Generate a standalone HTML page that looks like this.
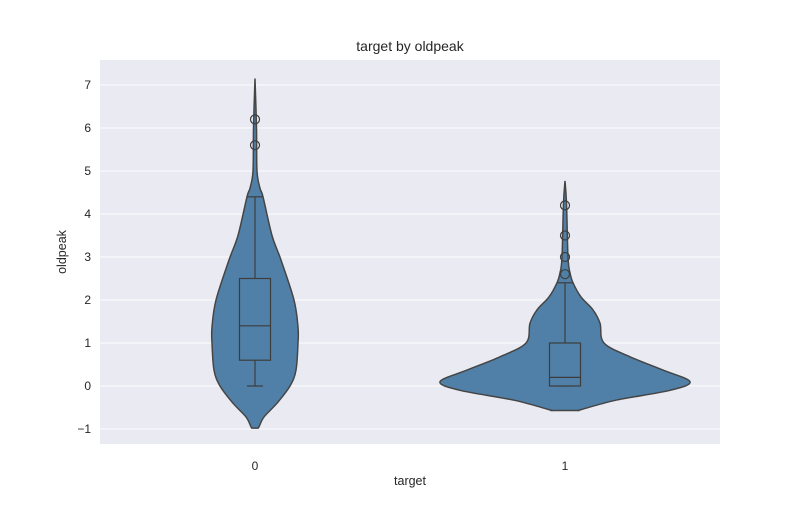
<!DOCTYPE html>
<html><head><meta charset="utf-8"><style>
body{margin:0;background:#fff;}
svg text{font-family:"Liberation Sans","DejaVu Sans",sans-serif;fill:#262626;}
</style></head><body>
<svg id="c" width="800" height="500" xmlns="http://www.w3.org/2000/svg">
<rect x="100" y="60" width="620" height="384" fill="#eaeaf2"/>
<g id="grid"></g><g id="marks"></g><g id="axes"></g>
<text x="410" y="51" text-anchor="middle" font-size="14">target by oldpeak</text>
<text x="410" y="485" text-anchor="middle" font-size="12.5">target</text>
<text transform="translate(66,252) rotate(-90)" text-anchor="middle" font-size="12.5">oldpeak</text>
</svg>
<script>
const categories=["0","1"];
const yTicks=[-1,0,1,2,3,4,5,6,7];
// density profile: values and half-widths (relative units)
const prof0Values=[7.15,6.0,5.0,4.6,4.4,3.5,2.93,2.0,1.37,1.0,0.37,0,-0.4,-0.72,-0.95,-0.98];
const prof0Widths=[0,1.5,2,5,8,17,26,39,43,43,41,35,22,9,4,3];
const prof1Values=[4.77,4.25,3.0,2.63,2.4,2.07,1.77,1.46,1.0,0.68,0.37,0.1,-0.1,-0.33,-0.55,-0.57];
const prof1Widths=[0,1.5,3,5,8,16,28,35,39,65,98,125,105,51,16,14];
const q1=[0.6,0];const med=[1.4,0.2];const q3=[2.5,1.0];
const whiskLo=[0,0];const whiskHi=[4.4,2.4];
const outliers0=[5.6,6.2];const outliers1=[2.6,3.0,3.5,4.2];
const profVals=[prof0Values,prof1Values],profW=[prof0Widths,prof1Widths],outs=[outliers0,outliers1];
const y=v=>386-v*43;
const x=i=>255+i*310;
const NS="http://www.w3.org/2000/svg";
function mk(tag,attrs,parent){const e=document.createElementNS(NS,tag);for(const k in attrs)e.setAttribute(k,attrs[k]);document.getElementById(parent).appendChild(e);return e;}
yTicks.forEach(t=>{
 const g=mk('line',{x1:100,x2:720,y1:y(t),y2:y(t),stroke:'#fff','stroke-width':1},'grid');
 
 
 const l=mk('text',{x:91,y:y(t)+4,'text-anchor':'end','font-size':12},'axes');
 l.textContent=t<0?'\u2212'+(-t):String(t);
 
 
});
categories.forEach((c,i)=>{
 const l=mk('text',{x:x(i),y:470,'text-anchor':'middle','font-size':12},'axes');
 l.textContent=c;
 
 
});
function smooth(pts){let d='M'+pts[0][0]+','+pts[0][1];
 for(let i=0;i<pts.length-1;i++){const p0=pts[Math.max(0,i-1)],p1=pts[i],p2=pts[i+1],p3=pts[Math.min(pts.length-1,i+2)];
 const c1=[p1[0]+(p2[0]-p0[0])/6,p1[1]+(p2[1]-p0[1])/6],c2=[p2[0]-(p3[0]-p1[0])/6,p2[1]-(p3[1]-p1[1])/6];
 d+=` C${c1[0]},${c1[1]} ${c2[0]},${c2[1]} ${p2[0]},${p2[1]}`;}return d;}
categories.forEach((c,i)=>{
 const cx=x(i),vs=profVals[i],ws=profW[i];
 const right=vs.map((v,k)=>[cx+ws[k],y(v)]);
 const left=vs.map((v,k)=>[cx-ws[k],y(v)]).reverse();
 const d=smooth(right)+' L'+left[0][0]+','+left[0][1]+' '+smooth(left).slice(1)+' Z';
 const p=mk('path',{d:d,fill:'#5080a8',stroke:'#454545','stroke-width':1.5},'marks');
 
 
 const w=mk('line',{x1:cx,x2:cx,y1:y(whiskLo[i]),y2:y(whiskHi[i]),stroke:'#3d3d3d','stroke-width':1.2},'marks');
 
 
 [whiskLo[i],whiskHi[i]].forEach(v=>{const cap=mk('line',{x1:cx-8,x2:cx+8,y1:y(v),y2:y(v),stroke:'#3d3d3d','stroke-width':1.2},'marks');
  
  });
 const b=mk('rect',{x:cx-15.5,y:y(q3[i]),width:31,height:y(q1[i])-y(q3[i]),fill:'#5080a8',stroke:'#3d3d3d','stroke-width':1.2},'marks');
 
 
 const m=mk('line',{x1:cx-15.5,x2:cx+15.5,y1:y(med[i]),y2:y(med[i]),stroke:'#3d3d3d','stroke-width':1.2},'marks');
 
 
 outs[i].forEach(v=>{const o=mk('circle',{cx:cx,cy:y(v),r:4.5,fill:'none',stroke:'#3d3d3d','stroke-width':1.2},'marks');
  
  });
});
</script>
</body></html>
